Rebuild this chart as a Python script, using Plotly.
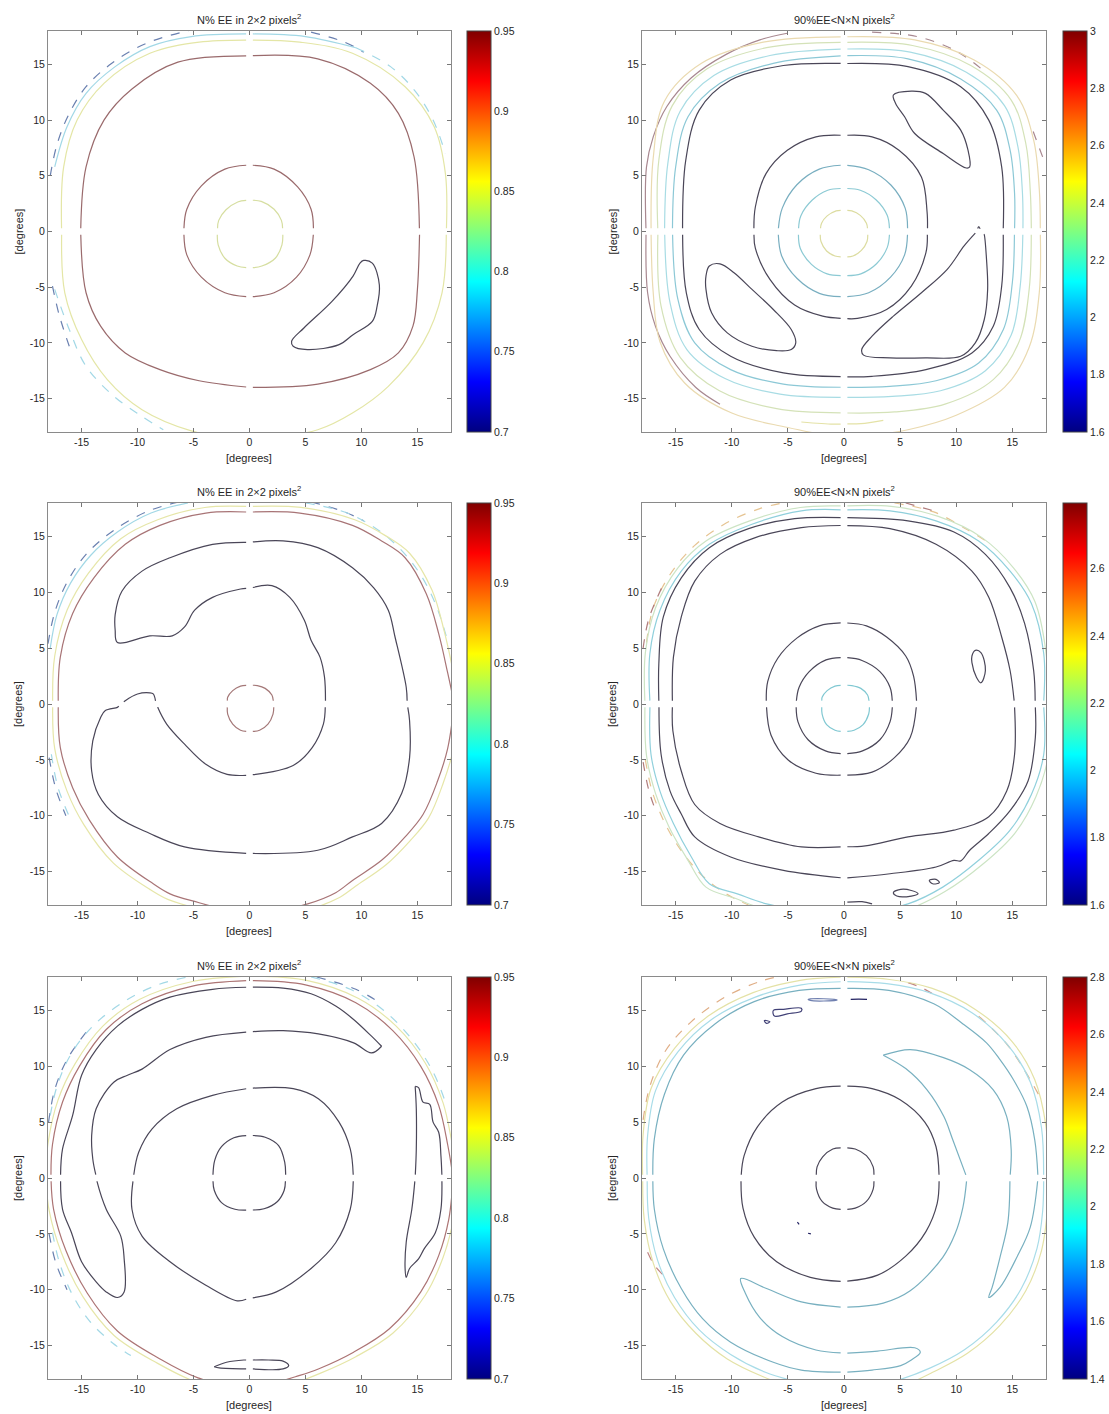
import plotly.graph_objects as go

# ---------------- colour scale (MATLAB jet) ----------------
JET = [[0, 'rgb(0,0,128)'], [0.125, 'rgb(0,0,255)'], [0.375, 'rgb(0,255,255)'],
       [0.625, 'rgb(255,255,0)'], [0.875, 'rgb(255,0,0)'], [1, 'rgb(128,0,0)']]

# ---------------- panel meta ----------------
TITLES = ["N% EE in 2\u00d72 pixels<sup>2</sup>", "90%EE<N\u00d7N pixels<sup>2</sup>"] * 3
CB_MIN = [0.7, 1.6, 0.7, 1.6, 0.7, 1.4]
CB_MAX = [0.95, 3.0, 0.95, 2.795, 0.95, 2.8]
CB_TICKS = [
    [0.7, 0.75, 0.8, 0.85, 0.9, 0.95],
    [1.6, 1.8, 2.0, 2.2, 2.4, 2.6, 2.8, 3.0],
    [0.7, 0.75, 0.8, 0.85, 0.9, 0.95],
    [1.6, 1.8, 2.0, 2.2, 2.4, 2.6],
    [0.7, 0.75, 0.8, 0.85, 0.9, 0.95],
    [1.4, 1.6, 1.8, 2.0, 2.2, 2.4, 2.6, 2.8],
]
CB_TICKTEXT = [
    ["0.7", "0.75", "0.8", "0.85", "0.9", "0.95"],
    ["1.6", "1.8", "2", "2.2", "2.4", "2.6", "2.8", "3"],
    ["0.7", "0.75", "0.8", "0.85", "0.9", "0.95"],
    ["1.6", "1.8", "2", "2.2", "2.4", "2.6"],
    ["0.7", "0.75", "0.8", "0.85", "0.9", "0.95"],
    ["1.4", "1.6", "1.8", "2", "2.2", "2.4", "2.6", "2.8"],
]
AX_TICKS = [-15, -10, -5, 0, 5, 10, 15]
AX_TICKTEXT = ["-15", "-10", "-5", "0", "5", "10", "15"]
AX_RANGE = [-18, 18]

# ---------------- contour lines (degrees) ----------------
# Panel 1 (top left)
P1_C1 = [(3.0, 0), (2.85, 1.0), (2.2, 2.0), (1.05, 2.7), (0, 2.85), (-1.05, 2.65), (-2.1, 1.95), (-2.75, 1.0),
         (-2.9, 0), (-2.8, -1.2), (-2.2, -2.4), (-1.1, -3.1), (0, -3.3), (1.1, -3.1), (2.3, -2.4), (2.9, -1.2)]
P1_C2 = [(5.75, 0), (5.5, 2.0), (4.3, 4.0), (2.2, 5.6), (0, 6.0), (-2.2, 5.6), (-4.3, 4.1), (-5.6, 2.0),
         (-5.9, 0), (-5.6, -2.1), (-4.3, -4.1), (-2.2, -5.5), (0, -5.9), (2.2, -5.5), (4.2, -4.1), (5.4, -2.1)]
P1_C3 = [(15.2, 0), (14.7, 6.7), (13.3, 10.6), (10.8, 13.3), (6.1, 15.5), (0, 15.8), (-6.4, 15.2),
         (-10.5, 12.8), (-13.0, 10.0), (-14.6, 5.8), (-15.1, 0), (-14.6, -5.5), (-13.3, -8.5), (-11.1, -10.9),
         (-8.0, -12.4), (-4.5, -13.4), (0, -14.0), (6.1, -13.7), (10.8, -12.4), (13.3, -10.9), (14.6, -8.5),
         (15.0, -5.2)]
P1_C4 = [(10.2, -2.6), (10.97, -2.84), (11.6, -4.8), (11.4, -6.7), (10.97, -8.07), (9.25, -9.26),
         (8.0, -10.16), (5.17, -10.6), (3.9, -10.3), (3.76, -9.86), (4.86, -8.66), (7.37, -6.27),
         (9.25, -4.0), (9.87, -2.84)]
P1_C5 = [(17.6, 0), (17.5, 5.2), (16.5, 9.4), (13.9, 13.0), (9.2, 16.0), (4.5, 17.0), (0, 17.2),
         (-4.5, 17.0), (-8.9, 16.0), (-13.0, 13.3), (-15.4, 10.0), (-16.6, 5.8), (-16.8, 0), (-16.5, -5.5),
         (-15.0, -9.7), (-12.7, -13.3), (-9.6, -16.0), (-5.2, -17.9), (0, -18.8), (6.1, -17.8), (9.2, -16.3),
         (12.4, -13.9), (15.5, -10.0), (17.2, -5.5)]
P1_C6A = [(-17.4, 5.8), (-16.3, 9.4), (-14.6, 12.4), (-12.0, 14.8), (-8.9, 16.6), (-5.2, 17.5), (0, 17.75),
          (5.0, 17.5), (9.5, 16.5)]
P1_C6B = [(9.5, 16.5), (12.6, 14.8), (14.8, 12.6), (16.4, 10.0), (17.5, 7.0)]
P1_C6C = [(-17.4, -5.2), (-16.1, -8.8), (-14.6, -12.1), (-12.1, -14.8), (-9.6, -16.6), (-7.7, -17.8)]
P1_C7A = [(-17.8, 5.0), (-17.2, 7.8), (-16.2, 10.4), (-14.6, 13.0), (-12.3, 15.1), (-9.2, 16.9), (-5.2, 18.1)]
P1_C7B = [(5.5, 17.9), (8.5, 17.0), (10.2, 16.1)]
P1_C7C = [(-17.6, -4.9), (-17.0, -7.5), (-16.1, -10.3)]

# Panel 2 (top right)
P2_A = [(2.15, 0), (2.0, 0.75), (1.45, 1.45), (0.7, 1.85), (0, 1.94), (-0.7, 1.85), (-1.5, 1.4), (-2.0, 0.75),
        (-2.15, 0), (-2.05, -0.9), (-1.55, -1.75), (-0.8, -2.2), (0, -2.33), (0.8, -2.2), (1.55, -1.7),
        (2.05, -0.9)]
P2_B = [(4.1, 0), (3.85, 1.45), (2.85, 2.85), (1.45, 3.7), (0, 3.9), (-1.45, 3.7), (-2.85, 2.8), (-3.85, 1.4),
        (-4.1, 0), (-3.9, -1.5), (-2.9, -2.95), (-1.5, -3.8), (0, -4.0), (1.5, -3.8), (2.9, -2.9), (3.85, -1.45)]
P2_C = [(5.7, 0), (5.45, 2.1), (4.2, 4.15), (2.2, 5.55), (0, 6.0), (-2.2, 5.6), (-4.2, 4.2), (-5.5, 2.1),
        (-5.9, 0), (-5.55, -2.2), (-4.2, -4.2), (-2.2, -5.55), (0, -5.9), (2.2, -5.5), (4.15, -4.1), (5.4, -2.1)]
P2_D = [(7.45, 0), (7.4, 1.8), (6.9, 4.9), (4.9, 7.3), (2.5, 8.5), (0, 8.66), (-2.5, 8.5), (-5.05, 7.3),
        (-6.95, 5.2), (-7.9, 2.2), (-8.05, 0), (-7.9, -1.5), (-6.6, -4.3), (-4.4, -6.6), (-1.9, -7.6),
        (0, -7.83), (1.2, -7.8), (3.8, -7.0), (6.0, -4.9), (7.3, -1.9)]
P2_E = [(4.4, 12.25), (6.0, 12.6), (7.26, 12.4), (8.84, 10.9), (10.4, 9.1), (11.05, 7.3), (11.2, 5.8),
        (10.9, 5.7), (8.84, 7.0), (6.3, 8.8), (5.4, 10.3), (4.6, 11.5)]
P2_F = [(-12.0, -3.1), (-11.05, -2.9), (-9.8, -3.7), (-8.2, -5.2), (-6.3, -7.0), (-4.7, -8.8), (-4.3, -10.0),
        (-4.7, -10.6), (-6.0, -10.7), (-8.2, -10.3), (-10.4, -9.1), (-11.8, -7.3), (-12.3, -5.2), (-12.3, -4.0)]
P2_G = [(12.0, 0.45), (12.5, -0.3), (12.7, -2.5), (12.8, -5.2), (12.5, -7.9), (11.7, -10.0), (10.4, -11.2),
        (7.26, -11.35), (4.1, -11.35), (1.74, -11.1), (1.58, -10.6), (2.5, -9.4), (4.4, -7.6), (6.9, -5.5),
        (9.2, -3.4), (10.7, -1.3), (11.7, -0.15)]
P2_H = [(14.2, 0), (14.05, 5.8), (12.9, 10.0), (10.4, 13.0), (5.7, 14.8), (0, 15.1), (-5.4, 14.9),
        (-10.1, 13.6), (-12.9, 10.9), (-14.1, 6.4), (-14.4, 0), (-14.05, -5.5), (-12.9, -8.8), (-10.1, -11.2),
        (-5.4, -12.7), (0, -13.05), (2.5, -13.0), (7.3, -12.4), (11.4, -10.9), (13.3, -8.5), (14.05, -4.9)]
P2_I = [(15.2, 0), (15.2, 3.4), (14.8, 7.3), (13.6, 10.9), (10.4, 13.7), (5.7, 15.5), (0, 15.8),
        (-6.3, 15.1), (-11.05, 13.3), (-13.9, 10.3), (-15.0, 5.8), (-15.3, 0), (-14.8, -6.1), (-13.3, -10.0),
        (-10.1, -12.4), (-5.4, -13.7), (0, -14.0), (4.1, -13.9), (8.2, -13.4), (12.0, -11.8), (14.2, -8.8),
        (15.0, -4.6)]
P2_J = [(15.95, 0), (15.9, 3.5), (15.5, 7.6), (14.3, 11.3), (10.9, 14.3), (5.9, 16.1), (0, 16.4),
        (-6.6, 15.8), (-11.6, 14.0), (-14.6, 10.8), (-15.7, 6.1), (-16.0, 0), (-15.5, -6.4), (-14.0, -10.6),
        (-10.6, -13.2), (-5.7, -14.6), (0, -14.9), (4.3, -14.8), (8.6, -14.3), (12.6, -12.5), (14.9, -9.3),
        (15.7, -4.9)]
P2_K = [(16.7, 0), (16.6, 3.6), (16.2, 7.9), (14.9, 11.8), (11.3, 14.9), (6.1, 16.7), (0, 17.0),
        (-6.9, 16.5), (-12.2, 14.6), (-15.3, 11.3), (-16.5, 6.4), (-16.6, 0), (-16.3, -6.7), (-14.6, -11.3),
        (-11.1, -14.3), (-6.0, -15.9), (0, -16.3), (4.5, -16.2), (9.0, -15.5), (13.3, -13.3), (15.6, -9.9),
        (16.5, -5.2)]
P2_L = [(17.5, 0), (17.4, 3.8), (16.9, 8.2), (15.4, 12.2), (11.6, 15.4), (6.3, 17.2), (0, 17.5),
        (-7.2, 17.0), (-12.7, 15.1), (-16.0, 11.7), (-17.0, 6.6), (-17.2, 0), (-17.0, -5.5), (-16.4, -9.9),
        (-14.2, -13.6), (-10.0, -16.3), (-5.0, -17.6), (0, -18.6), (5.7, -17.8), (10.0, -16.5), (14.3, -14.0),
        (16.5, -10.4), (17.4, -5.5)]
P2_L2 = [(-3.8, -17.1), (-1.0, -17.3), (1.5, -17.25), (3.5, -16.95)]
P2_MA = [(-11.05, -15.5), (-13.2, -14.0), (-15.5, -11.2), (-16.8, -8.5), (-17.5, -5.5), (-17.65, 0),
         (-17.6, 5.8), (-17.0, 8.5), (-15.8, 11.2), (-13.6, 13.8), (-10.5, 15.9), (-7.5, 17.2), (-5.05, 17.8)]
P2_MB = [(2.5, 17.9), (6.5, 17.5), (10.0, 16.2), (12.6, 14.3)]
P2_MC = [(17.7, 6.7), (16.7, 9.4)]

# Panel 3 (middle left)
P3_A = [(2.2, 0), (2.0, 0.8), (1.4, 1.4), (0.7, 1.65), (0, 1.7), (-0.8, 1.6), (-1.5, 1.2), (-1.95, 0.6),
        (-2.0, 0), (-1.95, -0.9), (-1.5, -1.8), (-0.8, -2.35), (0, -2.5), (0.9, -2.35), (1.65, -1.8), (2.1, -0.9)]
P3_B = [(0, 10.4), (2.0, 10.6), (3.6, 9.55), (4.9, 7.5), (5.5, 5.7), (6.3, 4.2), (6.7, 2.4), (6.8, 0),
        (6.6, -1.8), (5.6, -3.9), (3.9, -5.5), (0, -6.4), (-2.0, -6.3), (-3.9, -5.4), (-5.8, -3.6),
        (-7.4, -1.8), (-8.2, -0.3), (-8.6, 0.9), (-8.9, 1.0), (-10.0, 0.9), (-11.1, 0.3), (-11.8, -0.3),
        (-12.9, -0.6), (-13.3, -1.2), (-14.0, -3.3), (-14.1, -6.0), (-13.5, -8.1), (-11.8, -10.1),
        (-8.9, -11.6), (-5.8, -12.8), (0, -13.4), (6.1, -13.1), (9.2, -11.9), (11.8, -10.7), (13.6, -8.0),
        (14.3, -4.8), (14.3, -1.5), (14.1, 0), (14.0, 1.5), (13.0, 6.0), (12.4, 8.4), (11.1, 10.4),
        (9.2, 12.2), (6.1, 14.0), (3.0, 14.6), (0, 14.5), (-3.3, 14.3), (-7.1, 13.1), (-9.6, 11.9),
        (-11.4, 10.1), (-12.0, 8.0), (-12.0, 6.6), (-11.8, 5.5), (-8.9, 6.1), (-6.9, 6.1), (-5.8, 6.9),
        (-4.9, 8.4), (-3.3, 9.55), (-0.8, 10.3)]
P3_C = [(18.3, 0), (17.7, 2.8), (16.9, 6.3), (15.8, 9.85), (13.9, 13.1), (11.8, 14.6), (9.2, 16.0),
        (4.5, 17.1), (0, 17.2), (-3.9, 17.1), (-8.0, 16.0), (-11.1, 14.3), (-13.9, 11.3), (-15.8, 8.1),
        (-16.9, 4.2), (-17.1, 0), (-16.9, -3.9), (-15.8, -7.5), (-14.3, -10.4), (-11.8, -13.7), (-8.6, -16.1),
        (-7.1, -17.0), (-4.5, -17.8), (0, -19.0), (5.2, -17.9), (7.7, -16.9), (9.2, -15.8), (11.8, -14.0),
        (13.9, -11.9), (15.5, -9.9), (16.8, -6.9), (17.7, -4.0)]
P3_D = [(18.8, 0), (18.2, 2.9), (17.4, 6.5), (16.3, 10.2), (14.3, 13.5), (12.1, 15.1), (9.4, 16.5),
        (4.6, 17.6), (0, 17.7), (-4.0, 17.6), (-8.2, 16.5), (-11.5, 14.8), (-14.4, 11.7), (-16.3, 8.4),
        (-17.4, 4.3), (-17.6, 0), (-17.4, -4.0), (-16.3, -7.8), (-14.8, -10.8), (-12.2, -14.2), (-8.9, -16.6),
        (-7.3, -17.5), (-4.7, -18.3), (0, -19.5), (5.3, -18.4), (7.9, -17.4), (9.5, -16.3), (12.2, -14.4),
        (14.3, -12.3), (16.0, -10.2), (17.3, -7.1), (18.2, -4.1)]
P3_CY_TL = [(-17.8, 5.0), (-17.2, 8.0), (-16.0, 10.8), (-14.2, 13.3), (-11.8, 15.4), (-8.8, 17.1), (-5.5, 18.0)]
P3_BL_TL = [(-18.0, 5.4), (-17.4, 8.2), (-16.3, 10.9), (-14.6, 13.4), (-12.2, 15.5), (-9.0, 17.3), (-5.4, 18.3)]
P3_CY_TR = [(5.0, 18.0), (9.0, 17.0), (12.5, 14.8), (15.0, 12.0), (16.6, 9.0), (17.6, 6.0)]
P3_BL_TR = [(5.5, 18.1), (8.5, 17.2), (10.2, 16.4)]
P3_CY_LL = [(-17.7, -4.5), (-17.1, -7.5), (-16.0, -10.3)]
P3_BL_LL = [(-17.9, -4.8), (-17.3, -7.6), (-16.4, -10.0)]

# Panel 4 (middle right)
P4_A = [(2.3, 0), (2.1, 0.8), (1.5, 1.4), (0.7, 1.65), (0, 1.7), (-0.8, 1.6), (-1.5, 1.2), (-1.95, 0.6),
        (-2.0, 0), (-1.95, -0.9), (-1.55, -1.85), (-0.8, -2.35), (0, -2.5), (0.9, -2.35), (1.7, -1.85), (2.2, -0.9)]
P4_B = [(4.35, 0), (4.1, 1.5), (3.2, 2.9), (1.6, 3.9), (0, 4.2), (-1.6, 3.95), (-3.1, 2.9), (-4.0, 1.5),
        (-4.3, 0), (-4.1, -1.6), (-3.2, -3.2), (-1.65, -4.2), (0, -4.5), (1.65, -4.2), (3.2, -3.2), (4.1, -1.6)]
P4_C = [(6.5, 0), (6.2, 2.5), (5.5, 4.3), (3.8, 6.0), (2.0, 7.0), (0, 7.3), (-2.2, 7.0), (-4.2, 5.9),
        (-5.9, 4.1), (-6.8, 2.0), (-6.95, 0), (-6.5, -2.8), (-5.0, -5.0), (-2.5, -6.2), (0, -6.4),
        (2.5, -6.1), (4.5, -4.8), (5.9, -3.0)]
P4_D = [(11.7, 4.8), (12.2, 4.6), (12.6, 3.0), (12.2, 1.9), (11.8, 2.4), (11.4, 3.7), (11.4, 4.3)]
P4_E = [(15.2, 0), (14.8, 3.0), (14.05, 6.0), (12.9, 9.55), (11.4, 11.9), (8.2, 14.3), (4.1, 15.7), (0, 16.0),
        (-3.8, 15.8), (-7.9, 14.9), (-11.05, 13.4), (-13.3, 11.0), (-14.5, 7.8), (-15.2, 4.2), (-15.3, 0),
        (-15.25, -2.4), (-14.5, -6.0), (-13.3, -9.0), (-11.05, -10.7), (-7.6, -11.9), (-3.8, -12.8), (0, -12.8),
        (1.9, -12.7), (5.7, -11.9), (9.8, -11.3), (12.9, -10.1), (14.5, -7.8), (15.2, -4.5)]
P4_F = [(17.05, 0), (16.9, 3.0), (16.1, 7.2), (14.8, 10.4), (12.6, 13.4), (9.8, 15.4), (5.7, 16.4), (0, 16.7),
        (-4.4, 16.6), (-8.5, 15.7), (-12.0, 14.0), (-14.5, 11.3), (-16.1, 7.8), (-16.5, 3.6), (-16.5, 0),
        (-16.3, -4.5), (-15.5, -7.8), (-14.5, -9.85), (-13.3, -11.9), (-10.1, -13.7), (-5.4, -14.9), (0, -15.6),
        (4.1, -15.2), (8.2, -14.6), (9.8, -14.0), (10.4, -14.05), (11.2, -13.1), (12.9, -11.6), (14.8, -9.55),
        (16.4, -6.9), (17.05, -3.0)]
P4_G = [(17.8, 0), (17.8, 4.5), (16.7, 9.0), (14.8, 11.9), (12.0, 14.6), (8.2, 16.4), (4.1, 17.3), (0, 17.4),
        (-3.8, 17.3), (-8.2, 16.1), (-12.0, 14.3), (-14.5, 11.9), (-16.4, 8.4), (-17.3, 4.5), (-17.3, 0),
        (-17.2, -4.5), (-16.4, -7.8), (-15.2, -10.7), (-13.6, -13.7), (-12.0, -16.1), (-9.5, -17.0),
        (-6.9, -17.9), (0, -19.0), (5.7, -17.9), (8.8, -16.4), (12.0, -14.0), (14.8, -11.3), (16.7, -8.1),
        (17.8, -4.5)]
P4_H = [(18.2, 0), (18.0, 4.6), (17.0, 9.2), (15.1, 12.2), (12.3, 14.9), (8.4, 16.8), (4.2, 17.7), (0, 17.75),
        (-3.9, 17.6), (-8.4, 16.4), (-12.3, 14.6), (-14.8, 12.2), (-16.8, 8.6), (-17.7, 4.6), (-17.75, 0),
        (-17.6, -4.6), (-16.8, -8.0), (-15.6, -11.0), (-13.9, -14.0), (-12.3, -16.4), (-9.7, -17.4),
        (-7.0, -18.4), (0, -19.5), (5.9, -18.3), (9.0, -16.8), (12.3, -14.4), (15.2, -11.6), (17.1, -8.3),
        (18.2, -4.6)]
P4_OR_TL = [(-17.6, 5.5), (-17.0, 8.6), (-15.5, 11.6), (-13.3, 14.2), (-10.5, 16.2), (-7.5, 17.5), (-5.5, 18.0)]
P4_BR_TL = [(-17.9, 5.0), (-17.4, 7.6), (-16.2, 10.5)]
P4_OR_TR = [(4.5, 18.0), (8.0, 17.2), (11.0, 15.6), (12.8, 14.5)]
P4_BR_TR = [(5.5, 18.0), (8.0, 17.3)]
P4_OR_LL = [(-17.7, -5.0), (-17.1, -7.8), (-16.0, -10.6), (-14.6, -13.0), (-12.6, -15.4), (-10.5, -17.0),
            (-8.5, -18.0)]
P4_BR_LL = [(-17.9, -5.2), (-17.4, -7.7), (-16.8, -9.5)]
P4_J1 = [(4.4, -16.9), (5.05, -16.6), (6.0, -16.7), (6.6, -17.0), (6.0, -17.2), (4.7, -17.2)]
P4_J2 = [(7.6, -15.8), (8.2, -15.7), (8.5, -16.0), (7.9, -16.1)]
P4_J3 = [(0.3, -17.75), (1.6, -17.7), (2.5, -17.9)]

# Panel 5 (bottom left)
P5_A = [(3.25, 0), (3.15, 1.4), (2.6, 2.9), (1.4, 3.65), (0, 3.85), (-1.4, 3.6), (-2.5, 2.8), (-3.1, 1.6),
        (-3.3, 0), (-3.15, -1.1), (-2.5, -2.2), (-1.3, -2.8), (0, -2.9), (1.3, -2.75), (2.5, -2.1), (3.1, -1.1)]
P5_B = [(9.3, 0), (9.0, 2.6), (8.0, 5.0), (6.15, 7.1), (3.9, 8.0), (0, 8.05), (-3.3, 7.4), (-6.5, 6.2),
        (-8.7, 4.4), (-9.9, 2.3), (-10.4, 0), (-10.5, -2.8), (-9.6, -5.2), (-7.1, -7.5), (-3.9, -9.6),
        (-1.1, -11.0), (0, -10.8), (2.4, -10.2), (5.5, -8.1), (7.7, -5.8), (9.0, -2.8)]
P5_C = [(11.8, 11.8), (11.5, 12.1), (10.9, 12.7), (9.3, 14.2), (7.7, 15.4), (5.5, 16.5), (3.0, 17.0), (0, 17.1),
        (-3.3, 16.9), (-7.1, 16.2), (-9.6, 15.1), (-11.8, 13.6), (-13.7, 11.5), (-15.0, 9.2), (-15.8, 5.6),
        (-16.7, 2.6), (-16.9, 0), (-16.7, -2.8), (-15.9, -4.9), (-15.0, -7.5), (-13.7, -9.3), (-12.8, -10.2),
        (-11.8, -10.7), (-11.2, -10.2), (-11.2, -7.2), (-11.5, -5.2), (-12.8, -2.8), (-13.6, -0.4),
        (-14.0, 1.7), (-14.1, 3.8), (-13.7, 6.2), (-12.1, 8.6), (-10.9, 9.2), (-9.6, 9.75), (-7.1, 11.5),
        (-3.9, 12.6), (0, 13.1), (3.0, 13.2), (6.15, 12.9), (9.3, 12.1), (10.9, 11.2)]
P5_D = [(14.8, 8.2), (15.1, 8.1), (15.5, 6.8), (16.1, 6.6), (16.4, 5.0), (16.9, 4.1), (17.1, 2.0), (17.2, 0),
        (17.1, -2.8), (16.6, -4.9), (15.6, -6.35), (15.1, -7.25), (14.3, -8.1), (14.0, -8.9), (13.9, -8.1),
        (14.0, -5.75), (14.5, -2.8), (14.8, 0), (14.9, 2.6), (14.9, 6.2)]
P5_E = [(-3.15, -16.9), (-2.05, -16.5), (-0.5, -16.3), (0, -16.3), (1.7, -16.3), (3.0, -16.4), (3.5, -16.8),
        (3.0, -17.1), (0, -17.1), (-2.7, -17.0)]
P5_F = [(18.2, 0), (17.7, 3.0), (16.9, 6.5), (15.3, 10.0), (12.8, 13.2), (9.5, 15.7), (5.0, 17.3), (0, 17.7),
        (-5.0, 17.2), (-9.6, 15.6), (-12.8, 13.3), (-15.2, 10.0), (-16.7, 6.8), (-17.6, 3.0), (-17.75, 0),
        (-17.5, -2.8), (-16.4, -6.5), (-14.5, -10.3), (-11.8, -13.7), (-8.0, -16.2), (-4.6, -17.9), (0, -19.0),
        (4.1, -17.8), (6.15, -17.1), (9.3, -15.6), (12.5, -13.5), (15.3, -10.2), (16.9, -6.95), (17.8, -3.7)]
P5_G = [(18.7, 0), (18.1, 3.1), (17.3, 6.7), (15.7, 10.3), (13.1, 13.6), (9.7, 16.1), (5.1, 17.7), (0, 18.1),
        (-5.1, 17.6), (-9.8, 16.0), (-13.1, 13.6), (-15.6, 10.2), (-17.1, 7.0), (-18.0, 3.1), (-18.2, 0),
        (-17.9, -2.9), (-16.8, -6.7), (-14.9, -10.6), (-12.1, -14.1), (-8.2, -16.6), (-4.7, -18.3), (0, -19.5),
        (4.2, -18.3), (6.3, -17.5), (9.5, -16.0), (12.8, -13.9), (15.7, -10.5), (17.3, -7.1), (18.2, -3.8)]
P5_CY_TL = [(-17.8, 5.6), (-17.2, 8.2), (-16.0, 11.0), (-14.0, 13.6), (-11.2, 15.8), (-8.2, 17.3), (-5.5, 18.0)]
P5_BL_TL = [(-17.95, 5.0), (-17.4, 7.9), (-16.3, 10.6), (-14.4, 13.3)]
P5_CY_LL = [(-17.6, -4.9), (-17.0, -7.5), (-15.9, -10.3), (-14.3, -12.8), (-12.2, -14.8), (-10.6, -15.9)]
P5_BL_LL = [(-17.9, -5.0), (-17.3, -7.6), (-16.3, -10.0)]
P5_CY_TR = [(5.5, 18.0), (9.0, 16.9), (12.0, 15.0), (14.6, 12.3), (16.4, 9.5), (17.5, 6.8)]
P5_BL_TR = [(6.0, 18.0), (9.5, 16.9), (11.8, 15.6)]

# Panel 6 (bottom right)
P6_A = [(2.7, 0), (2.6, 1.0), (2.0, 2.0), (1.0, 2.6), (0, 2.75), (-1.0, 2.6), (-1.9, 1.9), (-2.4, 1.0),
        (-2.5, 0), (-2.45, -1.0), (-1.95, -2.1), (-1.0, -2.7), (0, -2.85), (1.0, -2.7), (2.0, -2.1), (2.6, -1.0)]
P6_B = [(8.5, 0), (8.2, 2.8), (7.2, 5.0), (5.0, 7.0), (2.5, 8.0), (0, 8.25), (-2.5, 8.0), (-5.5, 6.8),
        (-7.7, 4.6), (-8.9, 2.0), (-9.2, 0), (-9.0, -2.7), (-8.0, -5.3), (-6.0, -7.5), (-3.0, -8.9), (0, -9.3),
        (3.0, -8.7), (5.5, -7.0), (7.3, -4.8), (8.3, -2.3)]
P6_T = [(3.5, 11.0), (5.5, 9.8), (7.4, 7.9), (8.9, 5.5), (9.7, 3.4), (10.96, 0), (10.6, -2.6), (9.9, -5.0),
        (8.8, -7.1), (5.9, -10.1), (3.5, -11.2), (0, -11.6), (-3.8, -11.1), (-6.9, -9.9), (-9.2, -9.0),
        (-8.8, -10.3), (-7.5, -12.5), (-5.5, -14.2), (-2.5, -15.4), (0, -15.7), (3.0, -15.5), (6.3, -15.2),
        (6.8, -15.6), (6.0, -16.3), (5.05, -16.8), (2.5, -17.2), (0, -17.4), (-3.8, -17.2), (-6.3, -16.5),
        (-10.1, -14.7), (-12.6, -12.6), (-14.5, -9.9), (-16.1, -6.35), (-16.9, -2.8), (-17.05, 0), (-16.9, 3.5),
        (-16.0, 7.5), (-14.3, 11.0), (-11.5, 13.8), (-8.0, 15.8), (-4.0, 16.8), (0, 17.0), (4.0, 16.8),
        (8.0, 15.6), (10.6, 13.8), (12.7, 12.1), (13.9, 10.6), (15.1, 8.8), (16.3, 6.4), (17.0, 3.4), (17.3, 0),
        (16.6, -4.4), (15.4, -7.1), (13.9, -9.8), (12.9, -10.7), (13.2, -9.8), (13.9, -7.1), (14.6, -4.0),
        (14.8, 0), (14.9, 2.5), (14.5, 5.5), (13.3, 7.9), (11.2, 9.7), (8.8, 10.8), (5.9, 11.5)]
P6_CY = [(17.8, 0), (17.6, 4.5), (16.6, 8.6), (14.6, 11.9), (11.4, 14.8), (7.6, 16.6), (3.8, 17.4), (0, 17.6),
         (-3.8, 17.3), (-7.9, 16.2), (-11.8, 14.2), (-14.8, 11.3), (-16.8, 7.8), (-17.5, 3.8), (-17.55, 0),
         (-17.4, -3.6), (-16.6, -7.4), (-15.1, -10.7), (-12.9, -13.6), (-10.1, -15.8), (-7.0, -17.4),
         (-4.0, -18.3), (0, -19.2), (4.5, -18.2), (7.7, -17.0), (10.7, -15.4), (13.6, -12.9), (15.8, -9.9),
         (17.2, -6.3), (17.7, -3.0)]
P6_YE = [(18.2, 0), (18.0, 4.6), (17.0, 8.8), (15.0, 12.2), (11.7, 15.1), (7.8, 17.0), (3.9, 17.8), (0, 18.0),
         (-3.9, 17.7), (-8.1, 16.6), (-12.1, 14.5), (-15.1, 11.6), (-17.2, 8.0), (-17.9, 3.9), (-17.95, 0),
         (-17.8, -3.7), (-17.0, -7.6), (-15.5, -11.0), (-13.2, -13.9), (-10.4, -16.2), (-7.2, -17.8),
         (-5.0, -18.6), (0, -19.8), (5.5, -18.5), (7.9, -17.4), (11.0, -15.7), (13.9, -13.2), (16.2, -10.1),
         (17.6, -6.5), (18.1, -3.1)]
P6_OR_TL = [(-17.9, 5.2), (-17.3, 8.2), (-15.9, 11.4), (-13.6, 14.0), (-10.6, 16.2), (-7.5, 17.6), (-5.5, 18.1)]
P6_BR_LL = [(-17.5, -6.65), (-16.9, -7.8), (-16.1, -8.7)]
P6_BR_TR = [(5.7, 17.5), (7.0, 17.0), (8.2, 16.3)]
P6_OR_TR = [(12.0, 14.5), (14.5, 12.0), (16.3, 9.3), (17.7, 6.8)]
P6_K1 = [(-6.3, 15.0), (-5.4, 15.1), (-3.8, 15.2), (-3.8, 14.95), (-5.05, 14.7), (-6.2, 14.5)]
P6_K2 = [(-7.1, 14.1), (-6.6, 14.0), (-6.9, 13.85)]
P6_K3 = [(-3.2, 16.0), (-1.8, 16.05), (-0.6, 15.95), (-1.8, 15.85), (-3.0, 15.9)]
P6_K4 = [(0.6, 16.0), (1.3, 16.02), (2.05, 16.0)]
P6_K5 = [(-4.15, -3.95), (-4.0, -4.15)]
P6_K6 = [(-3.2, -4.95), (-2.95, -5.0)]

# ---------------- line styles (colour, dash, closed) ----------------
DARK = "#4a4658"
BROWN = "#9a6a6c"
CYAN = "#a2d8e6"
BLUE = "#6a80b0"
MAUVE = "#a88890"

PANELS = [
    [(P1_C7A, BLUE, "dash", False), (P1_C7B, BLUE, "dash", False), (P1_C7C, BLUE, "dash", False),
     (P1_C6A, CYAN, "solid", False), (P1_C6B, CYAN, "dash", False), (P1_C6C, CYAN, "dash", False),
     (P1_C5, "#e4e6a6", "solid", True), (P1_C3, BROWN, "solid", True), (P1_C2, BROWN, "solid", True),
     (P1_C1, "#d6dea0", "solid", True), (P1_C4, DARK, "solid", True)],
    [(P2_MA, MAUVE, "solid", False), (P2_MB, MAUVE, "dash", False), (P2_MC, MAUVE, "dash", False),
     (P2_L, "#eadab0", "solid", True), (P2_L2, "#e4e2a6", "solid", False),
     (P2_K, "#d4e2b8", "solid", True), (P2_J, "#a8dce4", "solid", True), (P2_I, "#8cc8d6", "solid", True),
     (P2_H, DARK, "solid", True), (P2_D, DARK, "solid", True), (P2_E, DARK, "solid", True),
     (P2_F, DARK, "solid", True), (P2_G, DARK, "solid", True), (P2_C, "#78aec0", "solid", True),
     (P2_B, "#8ccad4", "solid", True), (P2_A, "#dcdca0", "solid", True)],
    [(P3_BL_TL, BLUE, "dash", False), (P3_BL_TR, BLUE, "dash", False), (P3_BL_LL, BLUE, "dash", False),
     (P3_CY_TL, CYAN, "solid", False), (P3_CY_TR, CYAN, "dash", False), (P3_CY_LL, CYAN, "dash", False),
     (P3_D, "#e6e6a8", "solid", True), (P3_C, "#a87476", "solid", True), (P3_B, DARK, "solid", True),
     (P3_A, "#a47878", "solid", True)],
    [(P4_OR_TL, "#e6c492", "dash", False), (P4_BR_TL, "#b07c7c", "dash", False),
     (P4_OR_TR, "#e6c492", "dash", False), (P4_BR_TR, "#b07c7c", "dash", False),
     (P4_OR_LL, "#e6c492", "dash", False), (P4_BR_LL, "#b07c7c", "dash", False),
     (P4_H, "#cce4c4", "solid", True), (P4_G, "#90d0dc", "solid", True), (P4_F, DARK, "solid", True),
     (P4_E, DARK, "solid", True), (P4_C, DARK, "solid", True), (P4_B, DARK, "solid", True),
     (P4_D, DARK, "solid", True), (P4_A, "#80c8d2", "solid", True), (P4_J1, DARK, "solid", True),
     (P4_J2, DARK, "solid", True), (P4_J3, DARK, "solid", False)],
    [(P5_BL_TL, BLUE, "dash", False), (P5_BL_LL, BLUE, "dash", False), (P5_BL_TR, BLUE, "dash", False),
     (P5_CY_TL, CYAN, "dash", False), (P5_CY_LL, CYAN, "dash", False), (P5_CY_TR, CYAN, "dash", False),
     (P5_G, "#e6e6a8", "solid", True), (P5_F, "#ac7474", "solid", True), (P5_C, DARK, "solid", True),
     (P5_D, DARK, "solid", True), (P5_B, DARK, "solid", True), (P5_A, DARK, "solid", True),
     (P5_E, DARK, "solid", True)],
    [(P6_OR_TL, "#e0ae86", "dash", False), (P6_BR_LL, "#c08484", "dash", False),
     (P6_BR_TR, "#c08484", "dash", False), (P6_OR_TR, "#e0ae86", "dash", False),
     (P6_YE, "#e4e2a6", "solid", True), (P6_CY, "#a8dce8", "solid", True), (P6_T, "#78b0c0", "solid", True),
     (P6_B, DARK, "solid", True), (P6_A, DARK, "solid", True), (P6_K1, "#404076", "solid", True),
     (P6_K2, "#404076", "solid", True), (P6_K3, "#7080b0", "solid", True), (P6_K4, "#202060", "solid", False),
     (P6_K5, "#202060", "solid", False), (P6_K6, "#202060", "solid", False)],
]


def gapped(pts, closed, g=0.3):
    """Break a contour polyline where it meets the x = 0 / y = 0 lines (as in the source plot)."""
    P = [tuple(p) for p in pts]
    if closed:
        P.append(P[0])
    xs, ys = [], []
    open_run = False
    for (x0, y0), (x1, y1) in zip(P[:-1], P[1:]):
        dx, dy = x1 - x0, y1 - y0
        L = (dx * dx + dy * dy) ** 0.5
        if L == 0:
            continue
        ts = []
        for a0, a1 in ((x0, x1), (y0, y1)):
            if a0 == 0:
                ts.append(0.0)
            if a1 == 0:
                ts.append(1.0)
            if a0 * a1 < 0:
                ts.append(a0 / (a0 - a1))
        hidden = sorted((max(0.0, t * L - g), min(L, t * L + g)) for t in ts)
        vis, s = [], 0.0
        for h0, h1 in hidden:
            if h0 > s:
                vis.append((s, h0))
            s = max(s, h1)
        if s < L:
            vis.append((s, L))
        for v0, v1 in vis:
            if not (open_run and v0 == 0.0):
                if xs:
                    xs.append(None)
                    ys.append(None)
                xs.append(x0 + dx * v0 / L)
                ys.append(y0 + dy * v0 / L)
            xs.append(x0 + dx * v1 / L)
            ys.append(y0 + dy * v1 / L)
            open_run = (v1 == L)
        if not vis:
            open_run = False
    return xs, ys


# ---------------- layout geometry (pixels of the 1109 x 1414 page) ----------------
W, H = 1109, 1414


def px_x(p):
    return p / W


def px_y(p):
    return 1 - p / H


XD = [[px_x(48), px_x(451)], [px_x(642), px_x(1046)]]
ROWS_PX = [(31, 432), (503, 905), (977, 1379)]
CB_X = [px_x(467), px_x(1063)]
YT_X = [px_x(18), px_x(612)]
FONT = "Liberation Sans, Arial, sans-serif"
TXT = "#262626"

fig = go.Figure()
annotations = []
for i in range(6):
    r, c = divmod(i, 2)
    top, bot = ROWS_PX[r]
    yd = [px_y(bot), px_y(top)]
    n = "" if i == 0 else str(i + 1)
    xa, ya = "x" + n, "y" + n
    common = dict(range=AX_RANGE, tickvals=AX_TICKS, ticktext=AX_TICKTEXT, ticks="inside", ticklen=4,
                  tickcolor="#777", showline=True, linecolor="#8a8a8a", linewidth=1, mirror="ticks",
                  showgrid=False, zeroline=False, tickfont=dict(family=FONT, size=10.5, color=TXT),
                  fixedrange=True)
    fig.update_layout(**{
        ("xaxis" + n): dict(domain=XD[c], anchor=ya, **common),
        ("yaxis" + n): dict(domain=yd, anchor=xa, **common),
    })
    for pts, col, dash, closed in PANELS[i]:
        xs, ys = gapped(pts, closed)
        fig.add_trace(go.Scatter(x=xs, y=ys, mode="lines", xaxis=xa, yaxis=ya,
                                 line=dict(color=col, width=1.2, dash=dash, shape="spline", smoothing=1.0),
                                 hoverinfo="skip", showlegend=False))
    # colour bar
    fig.add_trace(go.Scatter(
        x=[-50], y=[-50], mode="markers", xaxis=xa, yaxis=ya, hoverinfo="skip", showlegend=False,
        marker=dict(size=1, color=[CB_MIN[i]], cmin=CB_MIN[i], cmax=CB_MAX[i], colorscale=JET,
                    showscale=True,
                    colorbar=dict(x=CB_X[c], xanchor="left", xpad=0, ypad=0,
                                  y=(yd[0] + yd[1]) / 2, yanchor="middle",
                                  len=bot - top, lenmode="pixels", thickness=24, thicknessmode="pixels",
                                  outlinewidth=1, outlinecolor="#444",
                                  tickvals=CB_TICKS[i], ticktext=CB_TICKTEXT[i], ticks="",
                                  tickfont=dict(family=FONT, size=10.5, color=TXT)))))
    cx = (XD[c][0] + XD[c][1]) / 2
    annotations.append(dict(text=TITLES[i], x=cx, y=px_y(top - 12), xref="paper", yref="paper",
                            showarrow=False, xanchor="center", yanchor="middle",
                            font=dict(family=FONT, size=11, color=TXT)))
    annotations.append(dict(text="[degrees]", x=cx, y=px_y(bot + 26), xref="paper", yref="paper",
                            showarrow=False, xanchor="center", yanchor="middle",
                            font=dict(family=FONT, size=11, color=TXT)))
    annotations.append(dict(text="[degrees]", x=YT_X[c], y=(yd[0] + yd[1]) / 2, xref="paper", yref="paper",
                            showarrow=False, xanchor="center", yanchor="middle", textangle=-90,
                            font=dict(family=FONT, size=11, color=TXT)))

fig.update_layout(width=W, height=H, margin=dict(l=0, r=0, t=0, b=0), paper_bgcolor="white",
                  plot_bgcolor="white", annotations=annotations, showlegend=False)
# remove the page's default 8 px body margin so the figure fills the 1109 x 1414 window exactly
fig.write_html("out.html", config={"displayModeBar": False},
               post_script="document.body.style.margin='0px';document.body.style.padding='0px';"
                           "document.body.style.overflow='hidden';")
